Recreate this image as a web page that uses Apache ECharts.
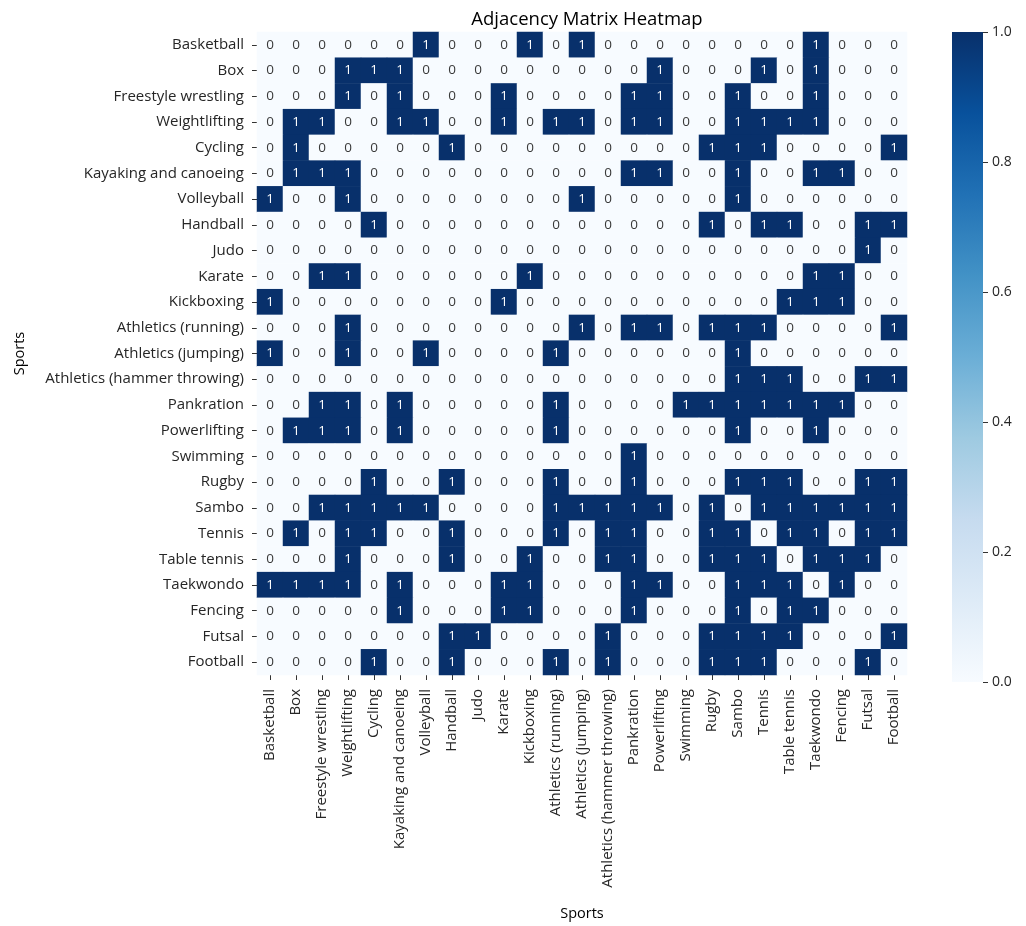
<!DOCTYPE html>
<html>
<head>
<meta charset="utf-8">
<title>Adjacency Matrix Heatmap</title>
<script src="https://cdn.jsdelivr.net/npm/echarts@6/dist/echarts.min.js"></script>
<style>
  html, body { margin: 0; padding: 0; background: #ffffff; }
  #chart { width: 1026px; height: 926px; }
</style>
</head>
<body>
<div id="chart"></div>
<script>
// Sports shared by rows and columns of the matrix
const sports = [
  'Basketball', 'Box', 'Freestyle wrestling', 'Weightlifting', 'Cycling',
  'Kayaking and canoeing', 'Volleyball', 'Handball', 'Judo', 'Karate',
  'Kickboxing', 'Athletics (running)', 'Athletics (jumping)',
  'Athletics (hammer throwing)', 'Pankration', 'Powerlifting', 'Swimming',
  'Rugby', 'Sambo', 'Tennis', 'Table tennis', 'Taekwondo', 'Fencing',
  'Futsal', 'Football'
];

// Adjacency rows, one per sport, in the order above
const basketball   = [0,0,0,0,0,0,1,0,0,0,1,0,1,0,0,0,0,0,0,0,0,1,0,0,0];
const box          = [0,0,0,1,1,1,0,0,0,0,0,0,0,0,0,1,0,0,0,1,0,1,0,0,0];
const freestyle    = [0,0,0,1,0,1,0,0,0,1,0,0,0,0,1,1,0,0,1,0,0,1,0,0,0];
const weightlift   = [0,1,1,0,0,1,1,0,0,1,0,1,1,0,1,1,0,0,1,1,1,1,0,0,0];
const cycling      = [0,1,0,0,0,0,0,1,0,0,0,0,0,0,0,0,0,1,1,1,0,0,0,0,1];
const kayaking     = [0,1,1,1,0,0,0,0,0,0,0,0,0,0,1,1,0,0,1,0,0,1,1,0,0];
const volleyball   = [1,0,0,1,0,0,0,0,0,0,0,0,1,0,0,0,0,0,1,0,0,0,0,0,0];
const handball     = [0,0,0,0,1,0,0,0,0,0,0,0,0,0,0,0,0,1,0,1,1,0,0,1,1];
const judo         = [0,0,0,0,0,0,0,0,0,0,0,0,0,0,0,0,0,0,0,0,0,0,0,1,0];
const karate       = [0,0,1,1,0,0,0,0,0,0,1,0,0,0,0,0,0,0,0,0,0,1,1,0,0];
const kickboxing   = [1,0,0,0,0,0,0,0,0,1,0,0,0,0,0,0,0,0,0,0,1,1,1,0,0];
const athRunning   = [0,0,0,1,0,0,0,0,0,0,0,0,1,0,1,1,0,1,1,1,0,0,0,0,1];
const athJumping   = [1,0,0,1,0,0,1,0,0,0,0,1,0,0,0,0,0,0,1,0,0,0,0,0,0];
const athHammer    = [0,0,0,0,0,0,0,0,0,0,0,0,0,0,0,0,0,0,1,1,1,0,0,1,1];
const pankration   = [0,0,1,1,0,1,0,0,0,0,0,1,0,0,0,0,1,1,1,1,1,1,1,0,0];
const powerlifting = [0,1,1,1,0,1,0,0,0,0,0,1,0,0,0,0,0,0,1,0,0,1,0,0,0];
const swimming     = [0,0,0,0,0,0,0,0,0,0,0,0,0,0,1,0,0,0,0,0,0,0,0,0,0];
const rugby        = [0,0,0,0,1,0,0,1,0,0,0,1,0,0,1,0,0,0,1,1,1,0,0,1,1];
const sambo        = [0,0,1,1,1,1,1,0,0,0,0,1,1,1,1,1,0,1,0,1,1,1,1,1,1];
const tennis       = [0,1,0,1,1,0,0,1,0,0,0,1,0,1,1,0,0,1,1,0,1,1,0,1,1];
const tableTennis  = [0,0,0,1,0,0,0,1,0,0,1,0,0,1,1,0,0,1,1,1,0,1,1,1,0];
const taekwondo    = [1,1,1,1,0,1,0,0,0,1,1,0,0,0,1,1,0,0,1,1,1,0,1,0,0];
const fencing      = [0,0,0,0,0,1,0,0,0,1,1,0,0,0,1,0,0,0,1,0,1,1,0,0,0];
const futsal       = [0,0,0,0,0,0,0,1,1,0,0,0,0,1,0,0,0,1,1,1,1,0,0,0,1];
const football     = [0,0,0,0,1,0,0,1,0,0,0,1,0,1,0,0,0,1,1,1,0,0,0,1,0];

const matrix = [
  basketball, box, freestyle, weightlift, cycling, kayaking, volleyball,
  handball, judo, karate, kickboxing, athRunning, athJumping, athHammer,
  pankration, powerlifting, swimming, rugby, sambo, tennis, tableTennis,
  taekwondo, fencing, futsal, football
];

// Colour bar tick values
const colorbarTicks = [0.0, 0.2, 0.4, 0.6, 0.8, 1.0];

// Sequential blue palette, light to dark
const blues = ['#f7fbff', '#deebf7', '#c6dbef', '#9ecae1', '#6baed6',
               '#4292c6', '#2171b5', '#08519c', '#08306b'];

const FONT = 'Open Sans';
const TEXT = '#262626';
const CELL_TEXT_LIGHT = '#3a3a3a';

const cells = [];
matrix.forEach((row, r) => {
  row.forEach((v, c) => {
    cells.push({
      value: [c, r, v],
      label: { color: v > 0.5 ? '#ffffff' : CELL_TEXT_LIGHT }
    });
  });
});

const chart = echarts.init(document.getElementById('chart'), null, { renderer: 'canvas' });

chart.setOption({
  animation: false,
  backgroundColor: '#ffffff',
  textStyle: { fontFamily: FONT },
  title: {
    text: 'Adjacency Matrix Heatmap',
    left: 582, top: 5,
    textAlign: 'center',
    textStyle: { fontFamily: FONT, fontSize: 18.5, fontWeight: 'normal', color: '#000' }
  },
  grid: [
    { left: 257, top: 32, width: 650, height: 650 },
    { left: 952, top: 32, width: 31, height: 650 }
  ],
  xAxis: [
    {
      gridIndex: 0,
      type: 'category',
      data: sports,
      name: 'Sports',
      nameLocation: 'middle',
      nameGap: 231,
      nameTextStyle: { fontFamily: FONT, fontSize: 14.5, color: '#000' },
      axisLine: { show: false },
      axisTick: { show: true, alignWithLabel: true, interval: 0, length: 5, lineStyle: { color: '#333' } },
      axisLabel: { interval: 0, rotate: 90, fontSize: 15, color: TEXT, margin: 14, fontFamily: FONT },
      splitLine: { show: false }
    },
    {
      gridIndex: 1,
      type: 'category',
      data: ['scale'],
      show: false
    }
  ],
  yAxis: [
    {
      gridIndex: 0,
      type: 'category',
      data: sports,
      inverse: true,
      name: 'Sports',
      nameLocation: 'middle',
      nameGap: 230,
      nameTextStyle: { fontFamily: FONT, fontSize: 14.5, color: '#000' },
      axisLine: { show: false },
      axisTick: { show: true, alignWithLabel: true, interval: 0, length: 5, lineStyle: { color: '#333' } },
      axisLabel: { interval: 0, fontSize: 15, color: TEXT, margin: 13, fontFamily: FONT },
      splitLine: { show: false }
    },
    {
      gridIndex: 1,
      type: 'value',
      min: 0, max: 1, interval: 0.2,
      position: 'right',
      axisLine: { show: false },
      axisTick: { show: true, length: 5, lineStyle: { color: '#333' } },
      axisLabel: {
        fontSize: 14, color: TEXT, margin: 9, fontFamily: FONT,
        formatter: v => {
          const t = colorbarTicks.find(x => Math.abs(x - v) < 1e-9);
          return (t !== undefined ? t : v).toFixed(1);
        }
      },
      splitLine: { show: false }
    }
  ],
  visualMap: {
    show: false,
    type: 'continuous',
    seriesIndex: 0,
    dimension: 2,
    min: 0, max: 1,
    inRange: { color: blues }
  },
  series: [
    {
      type: 'heatmap',
      xAxisIndex: 0, yAxisIndex: 0,
      data: cells,
      label: {
        show: true,
        fontFamily: FONT,
        fontSize: 13.5,
        formatter: p => String(p.value[2])
      },
      itemStyle: { borderWidth: 0 },
      emphasis: { disabled: true }
    },
    {
      type: 'bar',
      xAxisIndex: 1, yAxisIndex: 1,
      data: [1],
      barWidth: '100%',
      silent: true,
      itemStyle: {
        color: new echarts.graphic.LinearGradient(0, 0, 0, 1,
          blues.slice().reverse().map((c, i, a) => ({ offset: i / (a.length - 1), color: c })))
      }
    }
  ]
});
</script>
</body>
</html>
